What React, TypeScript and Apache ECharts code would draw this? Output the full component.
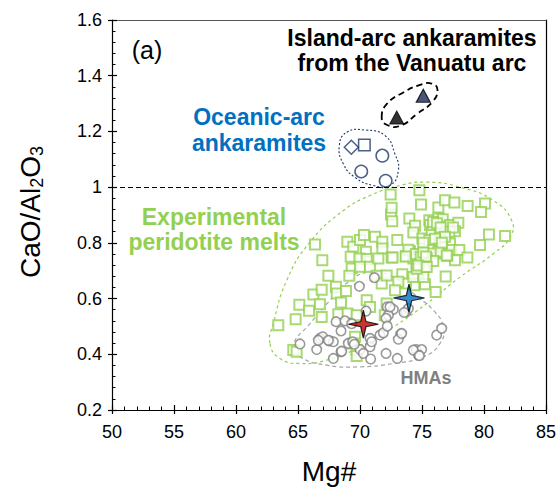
import React, { useEffect, useRef } from 'react';
import * as echarts from 'echarts';

const FONT = '"Liberation Sans", Arial, Helvetica, sans-serif';

// Axis tick values
const xTickValues = [50, 55, 60, 65, 70, 75, 80, 85];
const yTickValues = [0.2, 0.4, 0.6, 0.8, 1.0, 1.2, 1.4, 1.6];

// Experimental peridotite melts (Mg#, CaO/Al2O3)
const experimentalMelts: [number, number][] = [
  [72.47, 0.974], [72.5, 0.902], [72.6, 0.878], [72.55, 0.926], [66.37, 0.794], [66.96, 0.738],
  [68.98, 0.804], [69.46, 0.786], [70.0, 0.81], [70.32, 0.828], [71.21, 0.822], [71.8, 0.804],
  [71.8, 0.78], [70.48, 0.768], [69.25, 0.75], [69.95, 0.744], [70.54, 0.742], [69.33, 0.708],
  [70.0, 0.714], [70.8, 0.714], [71.48, 0.744], [72.55, 0.747], [67.45, 0.682], [69.14, 0.682],
  [71.35, 0.682],
  [74.79, 0.989], [74.92, 0.938], [76.32, 0.927], [76.86, 0.953], [77.61, 0.945], [78.68, 0.932],
  [80.08, 0.941], [79.76, 0.911], [73.98, 0.887], [74.44, 0.861], [74.3, 0.837], [75.03, 0.816],
  [73.01, 0.81], [75.59, 0.881], [75.65, 0.864], [75.78, 0.84], [76.32, 0.887], [76.67, 0.885],
  [75.91, 0.864], [76.86, 0.858], [77.26, 0.864], [77.93, 0.872], [77.66, 0.842], [77.2, 0.84],
  [76.45, 0.834], [76.4, 0.806], [75.59, 0.81], [77.26, 0.798], [76.64, 0.782], [76.72, 0.762],
  [77.39, 0.774], [78.01, 0.774], [78.66, 0.747], [77.66, 0.738], [77.04, 0.754], [76.32, 0.768],
  [75.7, 0.762], [75.38, 0.744], [74.7, 0.756], [74.03, 0.77], [73.71, 0.752], [74.3, 0.744],
  [74.57, 0.718], [75.19, 0.714], [75.91, 0.735], [72.63, 0.747], [73.41, 0.687], [74.7, 0.69],
  [76.91, 0.679], [80.4, 0.83], [81.7, 0.825], [79.68, 0.792],
  [75.9, 0.875], [76.2, 0.87], [76.5, 0.855], [77.5, 0.855], [76.85, 0.822], [76.05, 0.815],
  [75.1, 0.8], [76.6, 0.8], [73.9, 0.775], [74.5, 0.76], [74.9, 0.75], [75.1, 0.765],
  [73.68, 0.751], [76.99, 0.755], [75.32, 0.751],
  [71.75, 0.654], [72.15, 0.683], [66.24, 0.615], [66.91, 0.632], [68.06, 0.642], [68.12, 0.618],
  [68.87, 0.627], [65.11, 0.578], [66.77, 0.58], [68.47, 0.586], [65.89, 0.556], [64.81, 0.526],
  [66.91, 0.534], [68.25, 0.544], [69.0, 0.546], [69.73, 0.54], [63.41, 0.504], [70.54, 0.594],
  [70.81, 0.57], [72.15, 0.582], [69.6, 0.463], [69.46, 0.439], [69.73, 0.415], [64.62, 0.415],
  [64.89, 0.409], [69.73, 0.394],
  [75.24, 0.651], [74.38, 0.648], [73.71, 0.654], [73.09, 0.66], [72.82, 0.63], [76.1, 0.624],
  [74.3, 0.677], [75.11, 0.677], [74.57, 0.707], [74.7, 0.719], [75.38, 0.713], [72.0, 0.54]
];

// HMAs (gray circles)
const hmas: [number, number][] = [
  [69.95, 0.644], [71.16, 0.675], [68.07, 0.517], [68.79, 0.52], [68.47, 0.484], [69.33, 0.51],
  [70.49, 0.555], [72.2, 0.57], [72.69, 0.561], [72.29, 0.54], [72.1, 0.529], [73.71, 0.552],
  [73.9, 0.564], [65.16, 0.437], [66.51, 0.417], [66.78, 0.457], [66.99, 0.463], [67.53, 0.448],
  [67.85, 0.445], [69.06, 0.439], [69.41, 0.445], [70.0, 0.417], [70.81, 0.457], [70.81, 0.427],
  [70.94, 0.445], [71.61, 0.469], [71.88, 0.477], [73.28, 0.472], [73.09, 0.454], [74.52, 0.417],
  [74.97, 0.417], [76.18, 0.469], [76.59, 0.493], [67.85, 0.385], [68.47, 0.409], [70.27, 0.403],
  [70.86, 0.383], [72.1, 0.403], [73.01, 0.385], [74.71, 0.397], [72.2, 0.501], [73.55, 0.55],
  [73.36, 0.475], [74.3, 0.415], [74.79, 0.395], [66.64, 0.45], [67.45, 0.45], [72.42, 0.57],
  [68.52, 0.411], [69.54, 0.436]
];

// Oceanic-arc ankaramites
const oceanicCircles: [number, number][] = [[71.8, 1.113], [70.1, 1.056], [72.07, 1.023]];
const oceanicSquare: [number, number][] = [[70.35, 1.151]];
const oceanicDiamond: [number, number][] = [[69.3, 1.143]];

// Island-arc ankaramites (Vanuatu)
const vanuatuBlack: [number, number][] = [[72.96, 1.25]];
const vanuatuNavy: [number, number][] = [[75.1, 1.328]];

// Stars
const starRed: [number, number][] = [[70.27, 0.508]];
const starBlue: [number, number][] = [[73.95, 0.602]];

// Field outlines (data space vertices)
const experimentalField: [number, number][] = [
  [62.74, 0.439], [63.01, 0.51], [64.09, 0.665], [65.97, 0.803], [68.66, 0.916], [70.81, 0.97],
  [73.23, 1.006], [75.38, 1.018], [78.06, 1.0], [80.75, 0.952], [82.23, 0.88], [82.1, 0.821],
  [80.75, 0.761], [78.06, 0.677], [75.38, 0.582], [72.69, 0.498], [70.0, 0.427], [67.31, 0.379],
  [65.16, 0.367], [63.55, 0.385]
];
const hmaField: [number, number][] = [
  [70.81, 0.695], [72.69, 0.677], [74.3, 0.618], [75.91, 0.558], [76.72, 0.498], [76.45, 0.439],
  [75.11, 0.391], [72.69, 0.367], [70.0, 0.355], [67.31, 0.361], [65.16, 0.391], [64.62, 0.433],
  [65.97, 0.51], [67.58, 0.594], [69.06, 0.66]
];
const oceanicField: [number, number][] = [
  [68.93, 1.197], [70.4, 1.205], [72.02, 1.185], [72.82, 1.119], [73.09, 1.059], [72.42, 1.006],
  [71.08, 1.006], [69.6, 1.035], [68.66, 1.083], [68.33, 1.149]
];
const vanuatuField: [number, number][] = [
  [71.75, 1.25], [72.15, 1.298], [73.5, 1.34], [74.84, 1.367], [75.78, 1.372], [76.24, 1.352],
  [75.91, 1.31], [74.57, 1.262], [73.23, 1.22], [72.15, 1.224]
];

const STAR_PATH = 'path://M0,-14 L2.6,-2.6 L15,0 L2.6,2.6 L0,14 L-2.6,2.6 L-15,0 L-2.6,-2.6 Z';

function outlineSeries(pts: [number, number][], stroke: string, width: number, dash: number[], smooth: number) {
  return {
    type: 'custom',
    silent: true,
    clip: false,
    z: 1,
    data: [[pts[0][0], pts[0][1]]],
    renderItem: (_params: any, api: any) => {
      const points = pts.map((p) => api.coord(p));
      return {
        type: 'polygon',
        shape: { points, smooth },
        style: { fill: 'none', stroke, lineWidth: width, lineDash: dash }
      };
    }
  };
}

function label(text: string, x: number, y: number, size: number, color: string, bold: boolean) {
  return {
    type: 'text', x, y, z: 10,
    style: {
      text, fontFamily: FONT, fontSize: size, fontWeight: bold ? 'bold' : 'normal',
      fill: color, align: 'center', verticalAlign: 'middle'
    }
  };
}

export default function App() {
  const ref = useRef<HTMLDivElement>(null);

  useEffect(() => {
    document.body.style.margin = '0';
    if (!ref.current) return;
    const chart = echarts.init(ref.current, undefined, { renderer: 'svg' });
    const xMin = xTickValues[0];
    const xMax = xTickValues[xTickValues.length - 1];
    const xInt = xTickValues[1] - xTickValues[0];
    const yMin = yTickValues[0];
    const yMax = yTickValues[yTickValues.length - 1];
    const yInt = 0.2;

    const labelStyle = { fontFamily: FONT, fontSize: 18, color: '#000' };
    const black = { color: '#000', width: 1.2 };

    const option: any = {
      animation: false,
      backgroundColor: '#fff',
      grid: { left: 112, right: 12, top: 20, bottom: 78, containLabel: false, outerBoundsMode: 'none' },
      xAxis: [
        {
          type: 'value', position: 'bottom', min: xMin, max: xMax, interval: xInt,
          axisLine: { show: true, onZero: false, lineStyle: black },
          axisTick: { show: true, inside: false, length: 4, lineStyle: black },
          minorTick: { show: false },
          axisLabel: { ...labelStyle, margin: 13 },
          splitLine: { show: false },
          name: 'Mg#', nameLocation: 'middle', nameGap: 47,
          nameTextStyle: { fontFamily: FONT, fontSize: 28, color: '#000' }
        },
        {
          type: 'value', position: 'bottom', min: xMin, max: xMax, interval: xInt,
          axisLine: { show: false, onZero: false },
          axisTick: { show: true, inside: true, length: 5, lineStyle: black },
          minorTick: { show: true, splitNumber: 5, length: 3.5, lineStyle: { color: '#000', width: 1 } },
          axisLabel: { show: false }, splitLine: { show: false }
        },
        {
          type: 'value', position: 'top', min: xMin, max: xMax, interval: xInt,
          axisLine: { show: true, onZero: false, lineStyle: { color: '#555', width: 1.2 } },
          axisTick: { show: false }, axisLabel: { show: false }, splitLine: { show: false }
        }
      ],
      yAxis: [
        {
          type: 'value', position: 'left', min: yMin, max: yMax, interval: yInt,
          axisLine: { show: true, onZero: false, lineStyle: black },
          axisTick: { show: true, inside: false, length: 4, lineStyle: black },
          minorTick: { show: false },
          axisLabel: { ...labelStyle, margin: 10 },
          splitLine: { show: false }
        },
        {
          type: 'value', position: 'left', min: yMin, max: yMax, interval: yInt,
          axisLine: { show: false, onZero: false },
          axisTick: { show: true, inside: true, length: 5, lineStyle: black },
          minorTick: { show: true, splitNumber: 5, length: 3.5, lineStyle: { color: '#000', width: 1 } },
          axisLabel: { show: false }, splitLine: { show: false }
        },
        {
          type: 'value', position: 'right', min: yMin, max: yMax, interval: yInt,
          axisLine: { show: true, onZero: false, lineStyle: black },
          axisTick: { show: false }, axisLabel: { show: false }, splitLine: { show: false }
        }
      ],
      series: [
        outlineSeries(experimentalField, '#92d050', 1.2, [3, 3], 0.5),
        outlineSeries(hmaField, '#a6a6a6', 1.2, [4, 3], 0.5),
        outlineSeries(oceanicField, '#1f3864', 1.1, [2, 2], 0.5),
        outlineSeries(vanuatuField, '#000', 1.8, [6, 4], 0.5),
        {
          type: 'scatter', name: 'Experimental peridotite melts', data: experimentalMelts, z: 2,
          symbol: 'rect', symbolSize: 10,
          itemStyle: { color: '#fff', borderColor: '#92d050', borderWidth: 2 },
          markLine: {
            silent: true, symbol: 'none', label: { show: false },
            lineStyle: { type: [5, 3], color: '#000', width: 1.1 },
            data: [{ yAxis: 1 }]
          }
        },
        {
          type: 'scatter', name: 'HMAs', data: hmas, z: 3,
          symbol: 'circle', symbolSize: 9.5,
          itemStyle: { color: '#fff', borderColor: '#7f7f7f', borderWidth: 1.6 }
        },
        {
          type: 'scatter', data: oceanicCircles, z: 4, symbol: 'circle', symbolSize: 12.5,
          itemStyle: { color: '#fff', borderColor: '#1f3864', borderWidth: 1.5 }
        },
        {
          type: 'scatter', data: oceanicSquare, z: 4, symbol: 'rect', symbolSize: 11.5,
          itemStyle: { color: '#fff', borderColor: '#1f3864', borderWidth: 1.5 }
        },
        {
          type: 'scatter', data: oceanicDiamond, z: 4, symbol: 'diamond', symbolSize: 14,
          itemStyle: { color: '#fff', borderColor: '#1f3864', borderWidth: 1.5 }
        },
        {
          type: 'scatter', data: vanuatuBlack, z: 4, symbol: 'triangle', symbolSize: [14, 13],
          itemStyle: { color: '#000', borderColor: '#000', borderWidth: 1 }
        },
        {
          type: 'scatter', data: vanuatuNavy, z: 4, symbol: 'triangle', symbolSize: [14, 13],
          itemStyle: { color: '#1a2b5a', borderColor: '#000', borderWidth: 1.2 }
        },
        {
          type: 'scatter', data: starRed, z: 5, symbol: STAR_PATH, symbolSize: [30, 28],
          itemStyle: { color: '#c00000', borderColor: '#000', borderWidth: 1.2 }
        },
        {
          type: 'scatter', data: starBlue, z: 5, symbol: STAR_PATH, symbolSize: [31, 28],
          itemStyle: { color: '#0070c0', borderColor: '#000', borderWidth: 1.2 }
        }
      ],
      graphic: [
        {
          type: 'text', x: 30, y: 212, rotation: Math.PI / 2, z: 10,
          style: {
            text: '{a|CaO/Al}{s|2}{a|O}{s|3}',
            align: 'center', verticalAlign: 'middle',
            rich: {
              a: { fontFamily: FONT, fontSize: 28, fill: '#000', lineHeight: 32 },
              s: { fontFamily: FONT, fontSize: 18, fill: '#000', lineHeight: 18, verticalAlign: 'bottom' }
            }
          }
        },
        label('(a)', 147, 50, 25, '#000', false),
        label('Island-arc ankaramites', 412, 38, 23, '#000', true),
        label('from the Vanuatu arc', 412, 63, 23, '#000', true),
        label('Oceanic-arc', 259, 117, 23, '#0070c0', true),
        label('ankaramites', 259, 143, 23, '#0070c0', true),
        label('Experimental', 214, 217, 23, '#92d050', true),
        label('peridotite melts', 214, 242, 23, '#92d050', true),
        label('HMAs', 426, 378, 18, '#808080', true)
      ]
    };

    chart.setOption(option);
    return () => chart.dispose();
  }, []);

  return <div ref={ref} style={{ width: 558, height: 488 }} />;
}
